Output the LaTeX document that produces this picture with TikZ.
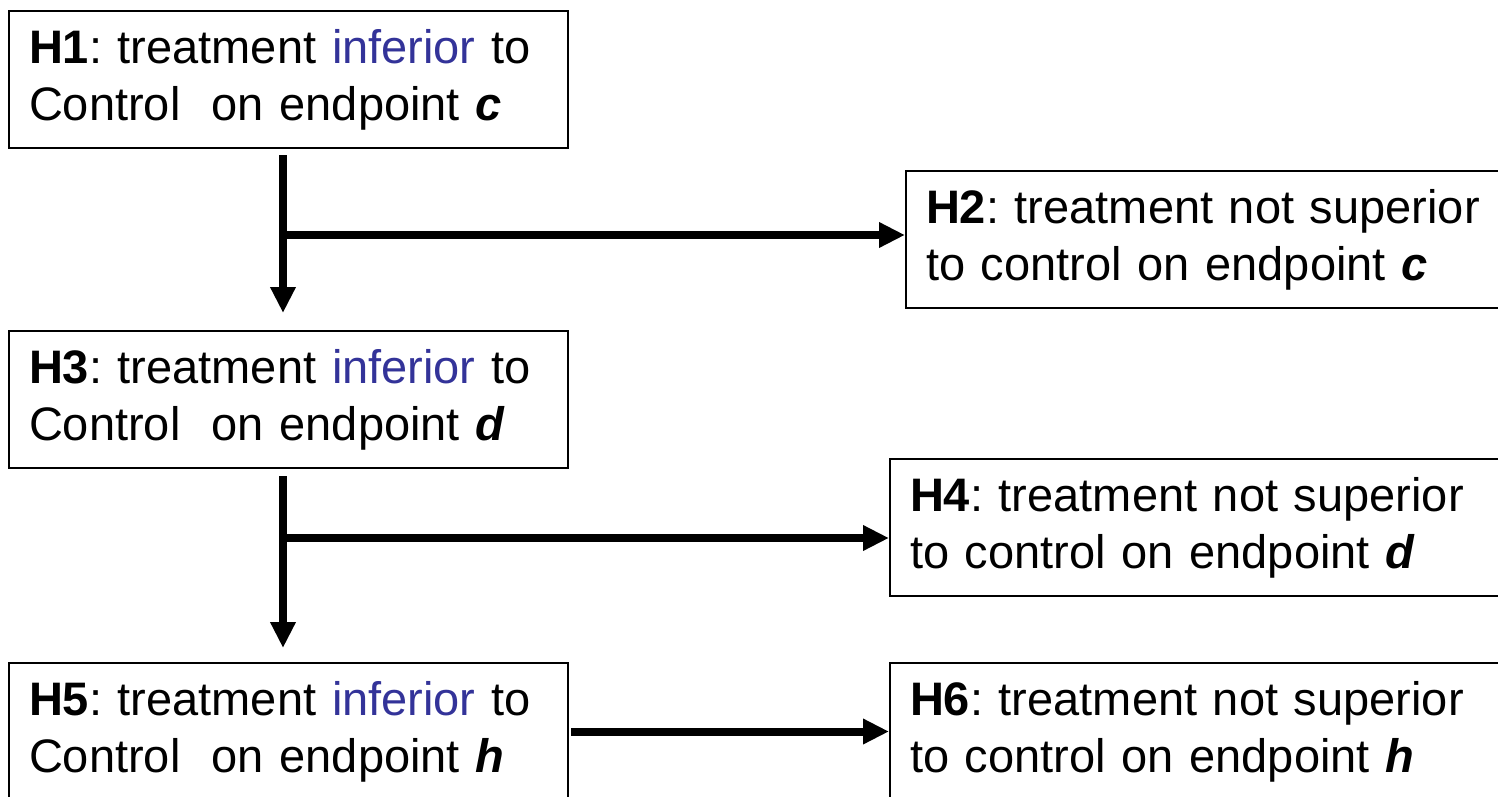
\documentclass[tikz,border=0pt]{standalone}
\usepackage{fontspec}
\setmainfont{Liberation Sans}
\usetikzlibrary{arrows.meta,calc}
\definecolor{infblue}{RGB}{51,51,153}
\frenchspacing
\begin{document}
\begin{tikzpicture}[x=0.5pt,y=-0.5pt,
  hbox/.style={draw=black,line width=1pt,anchor=north west,inner xsep=10pt,inner ysep=0pt,
    align=left,font=\fontsize{23.5}{28.5}\selectfont,minimum height=68.5pt},
  lbox/.style={hbox,text width=259.5pt},
  rbox/.style={hbox,text width=300pt},
  arr/.style={line width=4pt,-{Triangle[length=13pt,width=12pt]}}]
\useasboundingbox (0,0) rectangle (1498,797);
\fill[white] (0,0) rectangle (1498,797);
\clip (0,0) rectangle (1498,797);
\node[lbox] (h1) at (8,10) {\textbf{H1}: treatment \textcolor{infblue}{inferior} to\\Control\ \ on endpoint \textbf{\textit{c}}};
\node[rbox] (h2) at (905,170) {\textbf{H2}: treatment not superior\\to control on endpoint \textbf{\textit{c}}};
\node[lbox] (h3) at (8,330) {\textbf{H3}: treatment \textcolor{infblue}{inferior} to\\Control\ \ on endpoint \textbf{\textit{d}}};
\node[rbox] (h4) at (889,458) {\textbf{H4}: treatment not superior\\to control on endpoint \textbf{\textit{d}}};
\node[lbox] (h5) at (8,662) {\textbf{H5}: treatment \textcolor{infblue}{inferior} to\\Control\ \ on endpoint \textbf{\textit{h}}};
\node[rbox] (h6) at (889,662) {\textbf{H6}: treatment not superior\\to control on endpoint \textbf{\textit{h}}};
\coordinate (b1) at (283,235);
\coordinate (b2) at (283,538);
\draw[arr] ($(h1.south west)+(275,6)$) -- ($(h3.north west)+(275,-17)$);
\draw[arr] (b1) -- (b1 -| h2.west);
\draw[arr] ($(h3.south west)+(275,7)$) -- ($(h5.north west)+(275,-14)$);
\draw[arr] (b2) -- (b2 -| h4.west);
\draw[arr] ($(h5.east)+(2,0)$) -- (h5.east -| h6.west);
\end{tikzpicture}
\end{document}
